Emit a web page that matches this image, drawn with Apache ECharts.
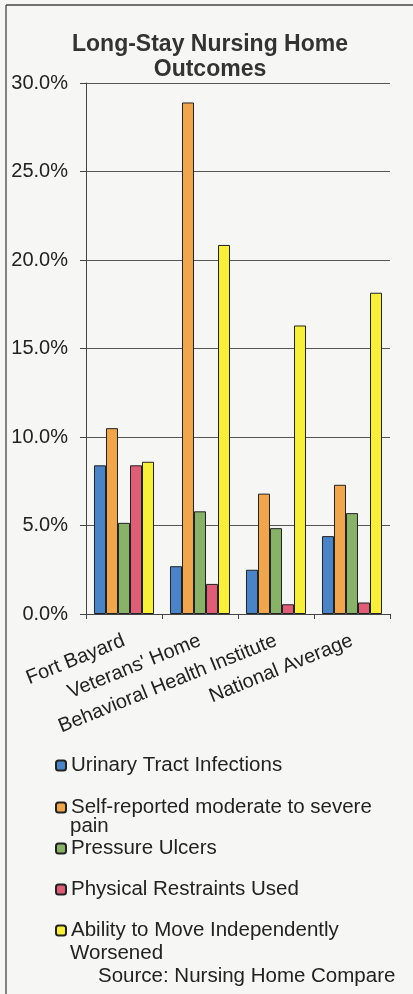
<!DOCTYPE html>
<html><head><meta charset="utf-8">
<script src="https://cdn.jsdelivr.net/npm/echarts@6/dist/echarts.min.js"></script>
<style>html,body{margin:0;padding:0;background:#f6f6f4}#c{width:413px;height:994px}</style>
</head><body><div id="c"></div>
<script>
const categories = ["Fort Bayard", "Veterans' Home", "Behavioral Health Institute", "National Average"];
const seriesNames = ["Urinary Tract Infections", "Self-reported moderate to severe pain", "Pressure Ulcers", "Physical Restraints Used", "Ability to Move Independently Worsened"];
const legendFirstLines = ["Urinary Tract Infections", "Self-reported moderate to severe", "Pressure Ulcers", "Physical Restraints Used", "Ability to Move Independently"];
const legendSecondLines = ["", "pain", "", "", "Worsened"];
const uti = [8.4, 2.7, 2.5, 4.4];
const pain = [10.5, 28.9, 6.8, 7.3];
const ulcers = [5.15, 5.8, 4.85, 5.7];
const restraints = [8.4, 1.7, 0.55, 0.65];
const mobility = [8.6, 20.85, 16.3, 18.15];
const colors = ["#4a84c6", "#f0a64e", "#88b268", "#de5d77", "#f8ef3c"];
const values = [uti, pain, ulcers, restraints, mobility];
const legendCenters = [763, 805, 846, 887, 928];
const secondLineOffsets = [0, 20, 0, 0, 24];

const chart = echarts.init(document.getElementById('c'), null, {renderer: 'canvas'});
const font = 'Arial, "Liberation Sans", sans-serif';
const legendFont = 20.5;
const graphics = [
  {type: 'text', left: 98, top: 966, style: {text: 'Source: Nursing Home Compare', font: '20.5px ' + font, fill: '#222'}},
  {type: 'line', shape: {x1: 6, y1: 5, x2: 413, y2: 5}, style: {stroke: '#444', lineWidth: 1.3}, silent: true},
  {type: 'line', shape: {x1: 6, y1: 5, x2: 6, y2: 994}, style: {stroke: '#444', lineWidth: 1.3}, silent: true}
];
legendSecondLines.forEach((t, i) => {
  if (t) graphics.push({type: 'text', left: 70, top: legendCenters[i] + secondLineOffsets[i] - 9, style: {text: t, font: legendFont + 'px ' + font, fill: '#222'}});
});
chart.setOption({
  backgroundColor: '#f6f6f4',
  animation: false,
  title: {
    text: 'Long-Stay Nursing Home\nOutcomes',
    left: 205, top: 27, textAlign: 'center',
    textStyle: {fontFamily: font, fontSize: 23, fontWeight: 'bold', color: '#333', lineHeight: 25}
  },
  grid: {left: 86, right: 23, top: 83, bottom: 380, containLabel: false},
  xAxis: {
    type: 'category', data: categories,
    axisLine: {lineStyle: {color: '#444', width: 1}},
    axisTick: {show: true, length: 5, lineStyle: {color: '#444'}},
    axisLabel: {rotate: 22, fontFamily: font, fontSize: 20, color: '#222', margin: 26, interval: 0}
  },
  yAxis: {
    type: 'value', min: 0, max: 30, interval: 5,
    axisLine: {show: true, lineStyle: {color: '#444', width: 1}},
    axisTick: {show: true, length: 6, lineStyle: {color: '#444'}},
    splitLine: {lineStyle: {color: '#555', width: 1}},
    axisLabel: {formatter: v => v.toFixed(1) + '%', fontFamily: font, fontSize: 20, color: '#222', margin: 18}
  },
  legend: seriesNames.map((n, i) => ({
    data: [n], left: 55, top: legendCenters[i] - 8, orient: 'vertical', padding: 0,
    itemWidth: 10, itemHeight: 10, itemGap: 0, selectedMode: false,
    formatter: () => legendFirstLines[i],
    textStyle: {fontFamily: font, fontSize: legendFont, color: '#222'}
  })),
  graphic: graphics,
  series: seriesNames.map((n, i) => ({
    name: n, type: 'bar', data: values[i], barGap: '0%', barCategoryGap: '21%',
    itemStyle: {color: colors[i], borderColor: '#222', borderWidth: 1}
  }))
});
</script></body></html>
